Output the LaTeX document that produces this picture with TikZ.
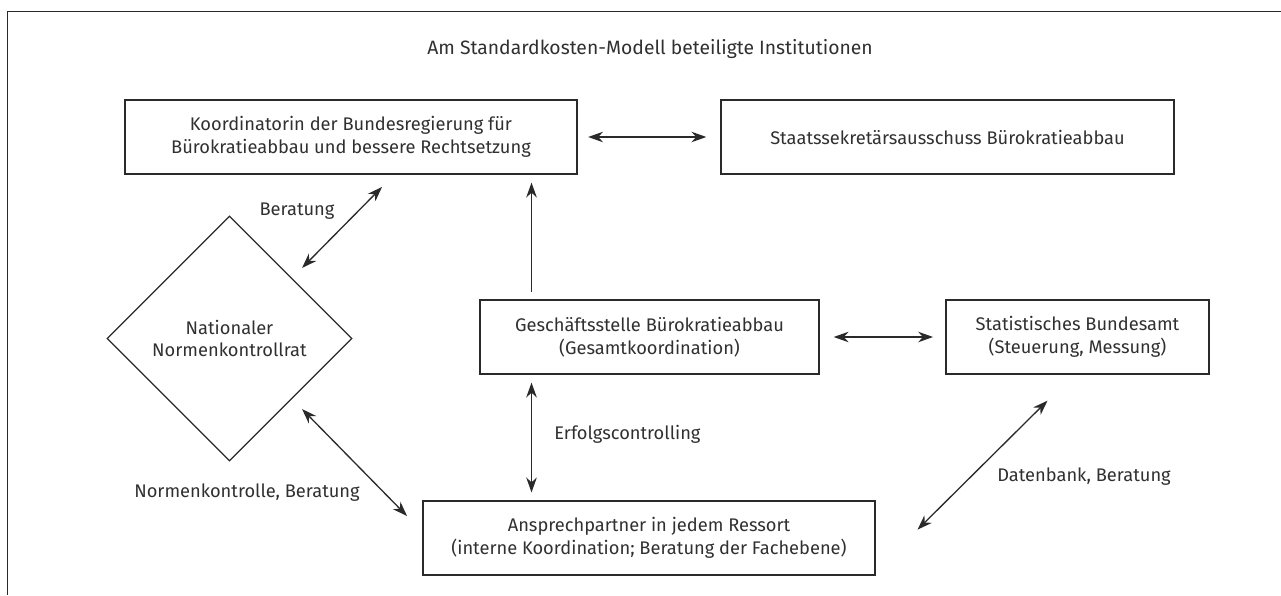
\documentclass[tikz,border=0pt]{standalone}
\usepackage{fontspec}
\setmainfont{Fira Sans}
\usetikzlibrary{positioning,arrows.meta,shapes.geometric}
\definecolor{linegray}{HTML}{2A2A2A}
\definecolor{textgray}{HTML}{303030}

\begin{document}
\begin{tikzpicture}[x=0.02cm, y=-0.02cm,
    txt/.style={font=\fontsize{10.4}{12.8}\selectfont, text=textgray},
    inst/.style={txt, draw=linegray, line width=0.75pt, minimum height=1.48cm, inner sep=0pt, align=center},
    link/.style={{Stealth[length=8.5pt,width=6pt]}-{Stealth[length=8.5pt,width=6pt]}, draw=linegray, line width=0.75pt},
    oneway/.style={-{Stealth[length=8.5pt,width=6pt]}, draw=linegray, line width=0.75pt}]
        \useasboundingbox (0,0) rectangle (1281,595);
        \draw[linegray, line width=0.9pt] (1281,11.5) -- (7.5,11.5) -- (7.5,595);
        \node[txt, font=\fontsize{11}{13}\selectfont] (title) at (650,49) {Am Standardkosten-Modell beteiligte Institutionen};
        \node[inst, minimum width=9.04cm] (koord) at (351,137) {Koordinatorin der Bundesregierung für\\Bürokratieabbau und bessere Rechtsetzung};
        \node[inst, minimum width=9.06cm] (staat) at (947.5,137) {Staatssekretärsausschuss Bürokratieabbau};
        \node[txt, draw=linegray, line width=0.75pt, diamond, minimum width=4.9cm, minimum height=4.9cm, inner sep=0pt, align=center] (nkr) at (229.5,338.5) {Nationaler\\Normenkontrollrat};
        \node[inst, minimum width=6.78cm] (gst) at (649.5,337) {Geschäftsstelle Bürokratieabbau\\(Gesamtkoordination)};
        \node[inst, minimum width=5.26cm] (stba) at (1077.5,337) {Statistisches Bundesamt\\(Steuerung, Messung)};
        \node[inst, minimum width=9.04cm] (ansp) at (649,538) {Ansprechpartner in jedem Ressort\\(interne Koordination; Beratung der Fachebene)};
        \draw[link, shorten <=6pt, shorten >=8pt] (koord) -- (staat);
        \draw[link, shorten <=8pt, shorten >=7pt] (gst) -- (stba);
        \draw[oneway, shorten <=4pt, shorten >=4.5pt] ([xshift=-2.36cm]gst.north) -- ([xshift=-2.36cm]gst.north |- koord.south);
        \draw[link, shorten <=4.5pt, shorten >=4.5pt] ([xshift=-2.36cm]gst.south) -- ([xshift=-2.36cm]gst.south |- ansp.north);
        \draw[link] ([shift={(11,-9)}]nkr.north east) -- ([shift={(91,-90)}]nkr.north east);
        \draw[link] ([shift={(11,9)}]nkr.south east) -- ([shift={(116,116)}]nkr.south east);
        \draw[link] ([shift={(-30,26)}]stba.south) -- ([shift={(-160,155)}]stba.south);
        \node[txt] (berat) at (297,211) {Beratung};
        \node[txt] (nkrlbl) at (247,493) {Normenkontrolle, Beratung};
        \node[txt, anchor=west, inner sep=0pt] (erfolg) at (554,434) {Erfolgscontrolling};
        \node[txt, anchor=west, inner sep=0pt] (datenb) at (997,477) {Datenbank, Beratung};
    \end{tikzpicture}
\end{document}
